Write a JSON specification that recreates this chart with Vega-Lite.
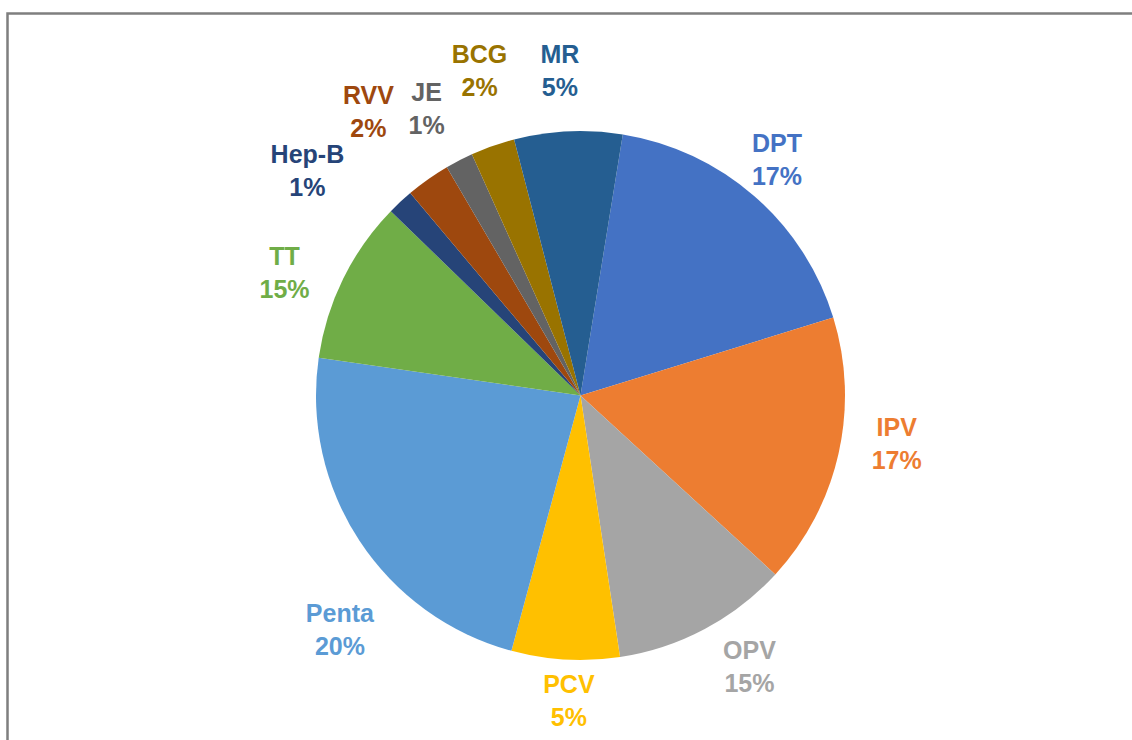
{
  "$schema": "https://vega.github.io/schema/vega-lite/v6.json",
  "width": 1146,
  "height": 764,
  "autosize": {"type": "none"},
  "padding": {"left": 7.5, "top": 13.5, "right": -21.5, "bottom": -37.5},
  "background": "white",
  "view": {"stroke": "#7f7f7f", "strokeWidth": 2.5, "fill": "white"},
  "config": {
    "view": {"stroke": "#7f7f7f", "strokeWidth": 2.5},
    "text": {"font": "Liberation Sans", "fontWeight": "bold", "fontSize": 25, "lineHeight": 33, "lineBreak": "\n", "align": "center", "baseline": "middle", "dy": -16.5}
  },
  "data": {
    "values": [
      {"ord": 1, "name": "DPT", "share": 17.7, "pct": "17%"},
      {"ord": 2, "name": "IPV", "share": 16.6, "pct": "17%"},
      {"ord": 3, "name": "OPV", "share": 10.8, "pct": "15%"},
      {"ord": 4, "name": "PCV", "share": 6.6, "pct": "5%"},
      {"ord": 5, "name": "Penta", "share": 23.1, "pct": "20%"},
      {"ord": 6, "name": "TT", "share": 10.0, "pct": "15%"},
      {"ord": 7, "name": "Hep-B", "share": 1.6, "pct": "1%"},
      {"ord": 8, "name": "RVV", "share": 2.7, "pct": "2%"},
      {"ord": 9, "name": "JE", "share": 1.7, "pct": "1%"},
      {"ord": 10, "name": "BCG", "share": 2.7, "pct": "2%"},
      {"ord": 11, "name": "MR", "share": 6.6, "pct": "5%"}
    ]
  },
  "transform": [{"calculate": "datum.name + '\\n' + datum.pct", "as": "label"}],
  "encoding": {
    "theta": {"field": "share", "type": "quantitative", "stack": true, "scale": {"range": [0.1606, 6.4438]}},
    "order": {"field": "ord", "type": "quantitative"},
    "color": {
      "field": "name",
      "type": "nominal",
      "scale": {
        "domain": ["DPT", "IPV", "OPV", "PCV", "Penta", "TT", "Hep-B", "RVV", "JE", "BCG", "MR"],
        "range": ["#4472C4", "#ED7D31", "#A5A5A5", "#FFC000", "#5B9BD5", "#70AD47", "#264478", "#9E480E", "#636363", "#997300", "#255E91"]
      },
      "legend": null
    }
  },
  "layer": [
    {"mark": {"type": "arc", "outerRadius": 264.5}},
    {
      "mark": {"type": "text", "radius": 325, "thetaOffset": -0.017, "dy": -16.5},
      "encoding": {
        "text": {"field": "label", "type": "nominal"},
        "opacity": {"condition": {"test": "indexof(['JE','MR'], datum.name) >= 0", "value": 1}, "value": 0}
      }
    },
    {
      "mark": {"type": "text", "radius": 320, "thetaOffset": -0.067, "dy": -16.5},
      "encoding": {
        "text": {"field": "label", "type": "nominal"},
        "opacity": {"condition": {"test": "indexof(['IPV','OPV','TT'], datum.name) >= 0", "value": 1}, "value": 0}
      }
    },
    {
      "mark": {"type": "text", "radius": 306, "thetaOffset": -0.019, "dy": -16.5},
      "encoding": {
        "text": {"field": "label", "type": "nominal"},
        "opacity": {"condition": {"test": "indexof(['PCV','DPT'], datum.name) >= 0", "value": 1}, "value": 0}
      }
    },
    {
      "mark": {"type": "text", "radius": 336, "thetaOffset": -0.191, "dy": -16.5},
      "encoding": {
        "text": {"field": "label", "type": "nominal"},
        "opacity": {"condition": {"test": "datum.name === 'Penta'", "value": 1}, "value": 0}
      }
    },
    {
      "mark": {"type": "text", "radius": 353, "thetaOffset": -0.135, "dy": -16.5},
      "encoding": {
        "text": {"field": "label", "type": "nominal"},
        "opacity": {"condition": {"test": "datum.name === 'Hep-B'", "value": 1}, "value": 0}
      }
    },
    {
      "mark": {"type": "text", "radius": 354, "thetaOffset": -0.028, "dy": -16.5},
      "encoding": {
        "text": {"field": "label", "type": "nominal"},
        "opacity": {"condition": {"test": "datum.name === 'RVV'", "value": 1}, "value": 0}
      }
    },
    {
      "mark": {"type": "text", "radius": 339, "thetaOffset": 0.036, "dy": -16.5},
      "encoding": {
        "text": {"field": "label", "type": "nominal"},
        "opacity": {"condition": {"test": "datum.name === 'BCG'", "value": 1}, "value": 0}
      }
    }
  ]
}
